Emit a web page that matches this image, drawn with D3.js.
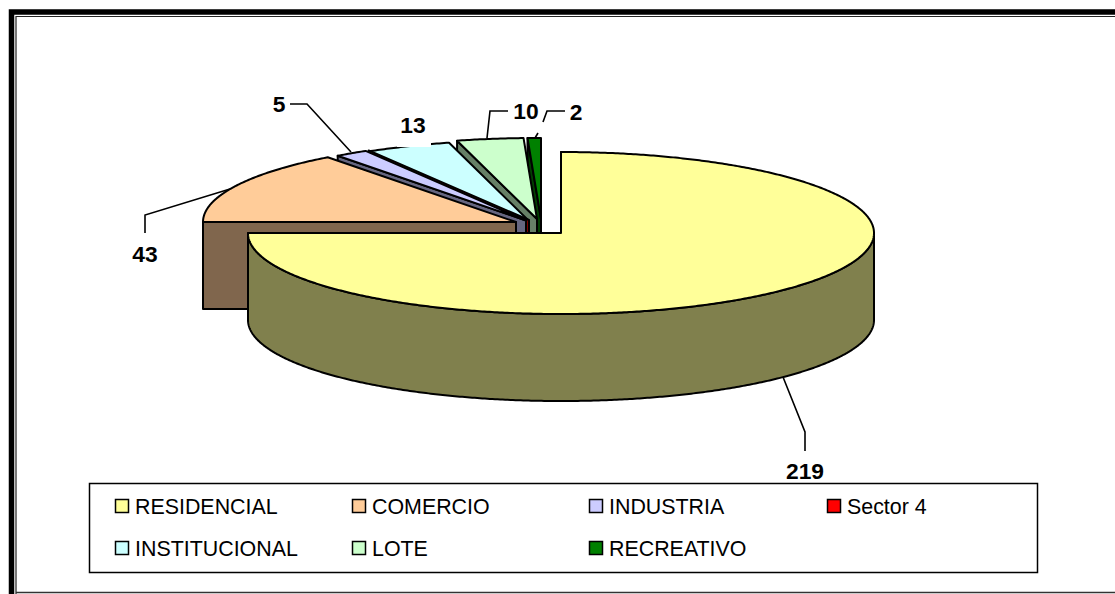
<!DOCTYPE html>
<html>
<head>
<meta charset="utf-8">
<script src="https://cdn.jsdelivr.net/npm/d3@7"></script>
<style>
  body { margin: 0; background: #fff; overflow: hidden; }
  text { font-family: "Liberation Sans", Arial, sans-serif; }
</style>
</head>
<body>
<svg id="chart" width="1115" height="594"></svg>
<script>
// values
const categories = ["RESIDENCIAL", "COMERCIO", "INDUSTRIA", "Sector 4", "INSTITUCIONAL", "LOTE", "RECREATIVO"];
const values = [219, 43, 5, 0, 13, 10, 2];
const colors = ["#ffff99", "#ffcc99", "#ccccff", "#ff0000", "#ccffff", "#ccffcc", "#008000"];
const dataLabels = ["219", "43", "5", "", "13", "10", "2"];

// layout
const W = 1115, H = 594;
const rx = 313, ry = 81, depth = 87;
const origins = [[561, 233], [516, 222], [526, 220.5], [529, 220], [529, 221], [537, 219], [541, 219]];
const labelPos = [[805, 479], [145, 262], [279, 112], null, [413, 133], [526, 119], [576, 120]];
const leaders = [
  [[783, 377], [805, 432], [805, 451]],
  [[145, 233], [145, 215], [230, 189]],
  [[290, 104], [307, 104], [351, 152]],
  [[487, 138], [490, 111], [508, 111]],
  [[535, 138], [538, 133]],
  [[543, 122], [547, 111], [565, 111]]
];
const legendCols = [115, 352, 589, 827];
const legendRows = [499, 541];

const svg = d3.select("#chart");
const line = d3.line();

const pie = d3.pie().sort(null).value(d => d.value).startAngle(0).endAngle(2 * Math.PI);
const slices = pie(categories.map((name, i) => ({ name, value: values[i], color: colors[i], origin: origins[i] })));

let project = (o, t, down = 0) => [o[0] + rx * Math.sin(t), o[1] - ry * Math.cos(t) + down];

let arcPoints = (o, a, b, down = 0) => {
  let n = Math.max(2, Math.ceil((b - a) * 120));
  return d3.range(n + 1).map(i => project(o, a + (b - a) * i / n, down));
};

let darker = c => {
  let rgb = d3.rgb(c);
  return d3.rgb(rgb.r / 2, rgb.g / 2, rgb.b / 2).formatHex();
};

// frame
svg.append("rect").attr("width", W).attr("height", H).attr("fill", "#fff");
let frame = svg.append("g").attr("fill", "none");
frame.append("path").attr("d", line([[11.5, H], [11.5, 12], [W, 12]])).attr("stroke", "#000").attr("stroke-width", 5.5);
frame.append("path").attr("d", line([[16, H], [16, 16.5], [W, 16.5]])).attr("stroke", "#222").attr("stroke-width", 1.2);
frame.append("path").attr("d", line([[16, 592.5], [W, 592.5]])).attr("stroke", "#333").attr("stroke-width", 1.5);

// painted back to front, residencial last
let drawOrder = [6, 5, 4, 3, 2, 1, 0];
let pieLayer = svg.append("g")
  .attr("stroke", "#000")
  .attr("stroke-width", 2)
  .attr("stroke-linejoin", "round");

drawOrder.forEach(i => {
  let d = slices[i], o = d.data.origin, side = darker(d.data.color);
  let g = pieLayer.append("g").attr("class", "slice");

  // radial wall on the starting edge
  let outer = project(o, d.startAngle);
  let wall = [outer, o, [o[0], o[1] + depth], [outer[0], outer[1] + depth]];
  g.append("path").attr("d", line(wall) + "Z").attr("fill", side);

  // outer rim, only the front half can be seen
  let a = Math.max(d.startAngle, Math.PI / 2), b = Math.min(d.endAngle, 3 * Math.PI / 2);
  if (b > a) {
    let rim = arcPoints(o, a, b).concat(arcPoints(o, a, b, depth).reverse());
    g.append("path").attr("d", line(rim) + "Z").attr("fill", side);
  }

  // top face
  if (d.value > 0) {
    let top = [o].concat(arcPoints(o, d.startAngle, d.endAngle));
    g.append("path").attr("d", line(top) + "Z").attr("fill", d.data.color);
  }
});

// leader lines
svg.append("g").selectAll("path")
  .data(leaders)
  .join("path")
  .attr("d", d => line(d))
  .attr("fill", "none")
  .attr("stroke", "#000")
  .attr("stroke-width", 1.6);

// the white box behind the 13 cuts into the slice edge
svg.append("rect").attr("x", 397).attr("y", 116).attr("width", 34).attr("height", 31).attr("fill", "#fff");

svg.append("g").selectAll("text")
  .data(dataLabels.map((t, i) => ({ t, pos: labelPos[i] })).filter(d => d.t !== ""))
  .join("text")
  .attr("x", d => d.pos[0])
  .attr("y", d => d.pos[1])
  .attr("text-anchor", "middle")
  .attr("font-size", 22.8)
  .attr("font-weight", "bold")
  .attr("fill", "#000")
  .text(d => d.t);

// legend
svg.append("rect")
  .attr("x", 89.5).attr("y", 483.5).attr("width", 948).attr("height", 89)
  .attr("fill", "#fff").attr("stroke", "#000").attr("stroke-width", 1.5);

let legend = svg.append("g").selectAll("g")
  .data(categories)
  .join("g")
  .attr("transform", (d, i) => `translate(${legendCols[i % 4]},${legendRows[Math.floor(i / 4)]})`);

legend.append("rect")
  .attr("x", 0.5).attr("y", 0.5).attr("width", 13).attr("height", 13)
  .attr("fill", (d, i) => colors[i])
  .attr("stroke", "#000")
  .attr("stroke-width", 1.5);

legend.append("text")
  .attr("x", 20)
  .attr("y", 14.5)
  .attr("font-size", 21.4)
  .attr("fill", "#000")
  .text(d => d);
</script>
</body>
</html>
